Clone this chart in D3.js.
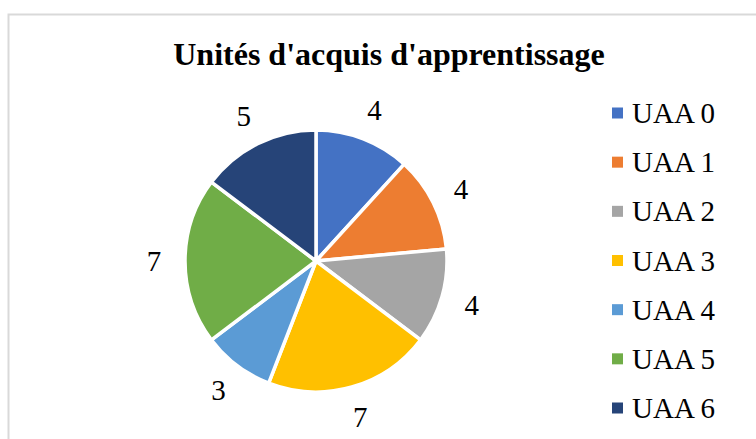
<!DOCTYPE html>
<html>
<head>
<meta charset="utf-8">
<script src="https://cdn.jsdelivr.net/npm/d3@7"></script>
<style>
html,body{margin:0;padding:0;background:#fff;}
svg{display:block;}
</style>
</head>
<body>
<svg id="chart" width="756" height="439"></svg>
<script>
const title = "Unités d'acquis d'apprentissage";
const categories = ["UAA 0","UAA 1","UAA 2","UAA 3","UAA 4","UAA 5","UAA 6"];
const values = [4,4,4,7,3,7,5];
const colors = ["#4472C4","#ED7D31","#A5A5A5","#FFC000","#5B9BD5","#70AD47","#264478"];

const svg = d3.select("#chart");
const W = 756, H = 439;
svg.append("rect").attr("width",W).attr("height",H).attr("fill","#fff");
svg.append("rect").attr("x",8.5).attr("y",14.5).attr("width",W+20).attr("height",H+20)
  .attr("fill","none").attr("stroke","#d9d9d9").attr("stroke-width",2);

svg.append("text").attr("x",389).attr("y",65).attr("text-anchor","middle")
  .attr("font-family","'Liberation Serif','Times New Roman',serif").attr("font-weight","bold")
  .attr("font-size",32).attr("fill","#000").text(title);

const cx = 316, cy = 261, r = 131;
const data = categories.map((c,i)=>({name:c,value:values[i],color:colors[i]}));
const pie = d3.pie().value(d=>d.value).sort(null);
const arc = d3.arc().innerRadius(0).outerRadius(r);
const labelArc = d3.arc().innerRadius(162).outerRadius(162);
const g = svg.append("g").attr("transform",`translate(${cx},${cy})`);
const arcs = pie(data);
g.selectAll("path").data(arcs).join("path")
  .attr("d",arc).attr("fill",d=>d.data.color).attr("stroke","#fff").attr("stroke-width",3.5).attr("stroke-linejoin","round");
g.selectAll("text").data(arcs).join("text")
  .attr("x",d=>labelArc.centroid(d)[0]).attr("y",d=>labelArc.centroid(d)[1])
  .attr("dy","0.35em").attr("text-anchor","middle")
  .attr("font-family","'Liberation Serif','Times New Roman',serif").attr("font-size",29).attr("fill","#000")
  .text(d=>d.data.value);

const legY = d3.scalePoint().domain(categories).range([113, 408]);
const leg = svg.append("g");
const items = leg.selectAll("g").data(data).join("g").attr("transform",d=>`translate(612,${legY(d.name)})`);
items.append("rect").attr("x",0).attr("y",-5.5).attr("width",11).attr("height",11).attr("fill",d=>d.color);
items.append("text").attr("x",20).attr("y",0).attr("dy","0.35em")
  .attr("font-family","'Liberation Serif','Times New Roman',serif").attr("font-size",29).attr("fill","#000")
  .text(d=>d.name);
</script>
</body>
</html>
